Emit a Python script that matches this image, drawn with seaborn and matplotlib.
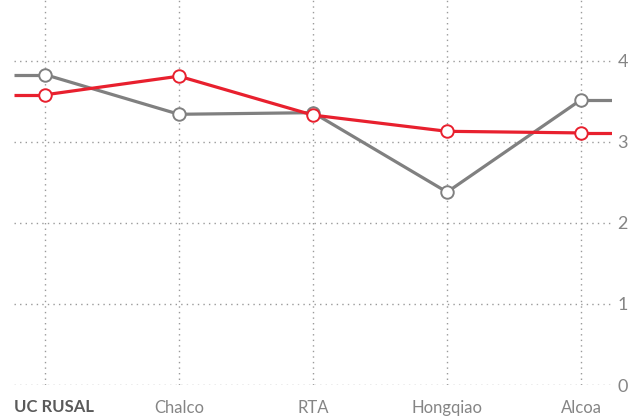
import matplotlib
matplotlib.use("Agg")
import matplotlib.pyplot as plt
import seaborn as sns
import pandas as pd

# values
companies = ["UC RUSAL", "Chalco", "RTA", "Hongqiao", "Alcoa"]
grey_vals = [3.83, 3.34, 3.36, 2.38, 3.52]
red_vals = [3.58, 3.81, 3.33, 3.13, 3.11]
y_ticks = [0, 1, 2, 3, 4]

GREY = "#808080"
RED = "#e8202e"
PAD = 0.23

sns.set_theme(style="white")
plt.rcParams["font.family"] = ["Lato", "DejaVu Sans"]

fig = plt.figure(figsize=(6.35, 4.18), dpi=100)
ax = fig.add_axes([14 / 635, 1 - 385 / 418, 598 / 635, 385 / 418])

x = list(range(len(companies)))
df = pd.DataFrame({"x": x + x,
                   "value": grey_vals + red_vals,
                   "series": ["grey"] * len(x) + ["red"] * len(x)})

for name, color, vals in [("grey", GREY, grey_vals), ("red", RED, red_vals)]:
    # flat stubs running out to the plot edges
    ax.plot([-PAD, 0], [vals[0], vals[0]], color=color, lw=2.3, solid_capstyle="butt", zorder=3)
    ax.plot([x[-1], x[-1] + PAD], [vals[-1], vals[-1]], color=color, lw=2.3, solid_capstyle="butt", zorder=3)
    sns.lineplot(data=df[df["series"] == name], x="x", y="value", ax=ax, color=color,
                 lw=2.3, marker="o", markersize=9, markerfacecolor="white",
                 markeredgecolor=color, markeredgewidth=1.4, zorder=4)

ax.set_xlim(-PAD, x[-1] + PAD)
ax.set_ylim(0, 4.75)

for s in ax.spines.values():
    s.set_visible(False)

ax.set_xticks(x)
ax.set_xticklabels([""] + companies[1:])
ax.set_yticks(y_ticks)
ax.yaxis.tick_right()
ax.tick_params(axis="both", length=0, labelsize=12, colors="#858585")
ax.tick_params(axis="y", labelsize=13)
ax.tick_params(axis="x", pad=11)
ax.tick_params(axis="y", pad=4)

# highlighted company label sits flush with the left edge
ax.text(-PAD, -0.275, companies[0], ha="left", va="center", fontsize=12,
        fontweight="bold", color="#5a5a5a", clip_on=False)

ax.grid(True, color="#9a9a9a", linestyle=(0, (1, 3)), lw=1)
ax.set_xlabel("")
ax.set_ylabel("")
if ax.get_legend():
    ax.get_legend().remove()

fig.savefig("out.png", dpi=100)
